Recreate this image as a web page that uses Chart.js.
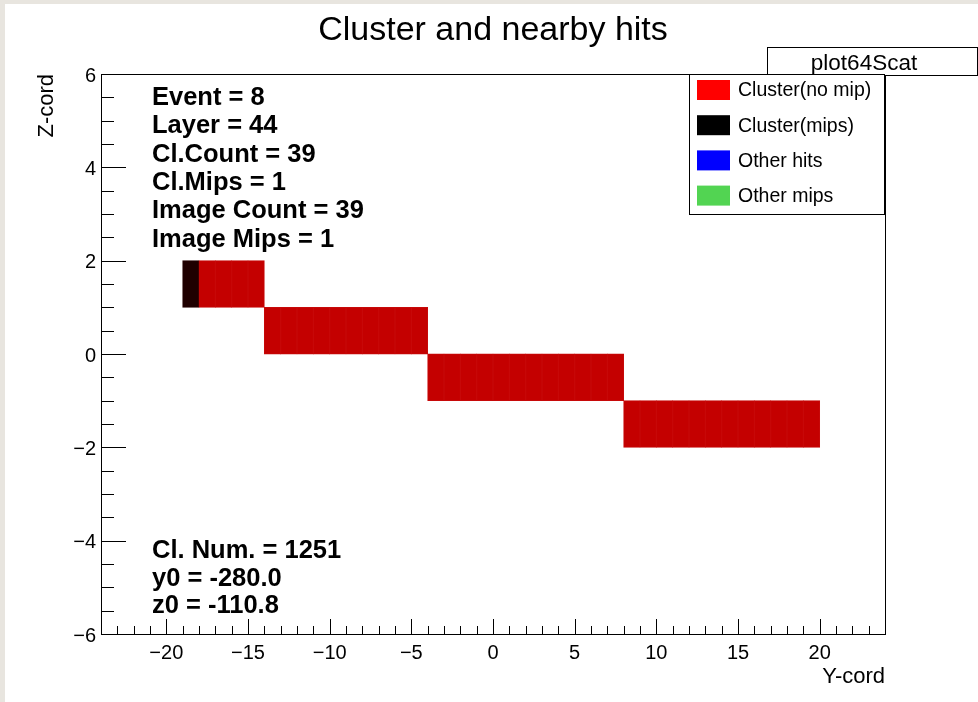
<!DOCTYPE html>
<html><head><meta charset="utf-8">
<script src="https://cdn.jsdelivr.net/npm/chart.js@4"></script>
<style>html,body{margin:0;padding:0;background:#fff;}canvas{display:block}</style>
</head><body>
<canvas id="c" width="978" height="702" style="width:978px;height:702px"></canvas>
<script>
// ---- data ----
const chartTitle = 'Cluster and nearby hits';
const xAxisTitle = 'Y-cord';
const yAxisTitle = 'Z-cord';
const histName = 'plot64Scat';
const xTickLabels = [-20, -15, -10, -5, 0, 5, 10, 15, 20];
const yTickLabels = [-6, -4, -2, 0, 2, 4, 6];
const seriesNames = ['Cluster(no mip)', 'Cluster(mips)', 'Other hits', 'Other mips'];
const cellHeight = 1;
// cell centres (Y-cord) and (Z-cord)
const clusterNoMipY = [-17.5, -16.5, -15.5, -14.5,
  -13.5, -12.5, -11.5, -10.5, -9.5, -8.5, -7.5, -6.5, -5.5, -4.5,
  -3.5, -2.5, -1.5, -0.5, 0.5, 1.5, 2.5, 3.5, 4.5, 5.5, 6.5, 7.5,
  8.5, 9.5, 10.5, 11.5, 12.5, 13.5, 14.5, 15.5, 16.5, 17.5, 18.5, 19.5];
const clusterNoMipZ = [1.5, 1.5, 1.5, 1.5,
  0.5, 0.5, 0.5, 0.5, 0.5, 0.5, 0.5, 0.5, 0.5, 0.5,
  -0.5, -0.5, -0.5, -0.5, -0.5, -0.5, -0.5, -0.5, -0.5, -0.5, -0.5, -0.5,
  -1.5, -1.5, -1.5, -1.5, -1.5, -1.5, -1.5, -1.5, -1.5, -1.5, -1.5, -1.5];
const clusterMipsY = [-18.5];
const clusterMipsZ = [1.5];
const otherHitsY = [];
const otherHitsZ = [];
const otherMipsY = [];
const otherMipsZ = [];
const statsTop = ['Event = 8', 'Layer = 44', 'Cl.Count = 39', 'Cl.Mips = 1', 'Image Count = 39', 'Image Mips = 1'];
const statsBottom = ['Cl. Num. = 1251', 'y0 = -280.0', 'z0 = -110.8'];

// ---- build ----
function cells(ys, zs) {
  return ys.map((y, i) => ({ x: y, y: [zs[i] - cellHeight / 2, zs[i] + cellHeight / 2] }));
}
const FONT = '"Liberation Sans", Arial, Helvetica, sans-serif';
const minus = v => (v < 0 ? '\u2212' + Math.abs(v) : String(v));

const decor = {
  id: 'decor',
  beforeDraw(chart) {
    const ctx = chart.ctx;
    ctx.save();
    ctx.fillStyle = '#e8e5df';
    ctx.fillRect(0, 0, chart.width, 4);
    ctx.fillRect(0, 0, 5, chart.height);
    ctx.restore();
  },
  afterDraw(chart) {
    const ctx = chart.ctx;
    const a = chart.chartArea;
    const xs = chart.scales.x, ys = chart.scales.y;
    ctx.save();
    // frame
    ctx.strokeStyle = '#000';
    ctx.lineWidth = 1;
    ctx.strokeRect(Math.round(a.left) + 0.5, Math.round(a.top) + 0.5, Math.round(a.right - a.left), Math.round(a.bottom - a.top));
    // ticks
    ctx.beginPath();
    for (let v = -23; v <= 23; v++) {
      const px = Math.round(xs.getPixelForValue(v)) + 0.5;
      const len = (v % 5 === 0) ? 15 : 8;
      ctx.moveTo(px, a.bottom);
      ctx.lineTo(px, a.bottom - len);
    }
    for (let k = -12; k <= 12; k++) {
      const v = k / 2;
      const py = Math.round(ys.getPixelForValue(v)) + 0.5;
      const len = (k % 4 === 0) ? 25 : 13;
      ctx.moveTo(a.left, py);
      ctx.lineTo(a.left + len, py);
    }
    ctx.stroke();

    ctx.fillStyle = '#000';
    // title
    ctx.font = '34px ' + FONT;
    ctx.textAlign = 'center';
    ctx.textBaseline = 'alphabetic';
    ctx.fillText(chartTitle, (a.left + a.right) / 2, 40);
    // axis titles
    ctx.font = '22px ' + FONT;
    ctx.textAlign = 'right';
    ctx.fillText(xAxisTitle, a.right, 683);
    ctx.save();
    ctx.translate(53, a.top);
    ctx.rotate(-Math.PI / 2);
    ctx.textAlign = 'right';
    ctx.fillText(yAxisTitle, 0, 0);
    ctx.restore();

    // stats text
    ctx.font = 'bold 25.5px ' + FONT;
    ctx.textAlign = 'left';
    statsTop.forEach((t, i) => ctx.fillText(t, 152, 105 + i * 28.3));
    statsBottom.forEach((t, i) => ctx.fillText(t, 152, 558 + i * 27.5));

    // hist name box
    ctx.fillStyle = '#fff';
    ctx.fillRect(767.5, 47.5, 210, 28);
    ctx.strokeRect(767.5, 47.5, 210, 28);
    ctx.fillStyle = '#000';
    ctx.font = '22.5px ' + FONT;
    ctx.textAlign = 'center';
    ctx.fillText(histName, 864, 70);

    // legend
    const lx = 689.5, ly = 74.5, lw = 195, lh = 140;
    ctx.fillStyle = '#fff';
    ctx.fillRect(lx, ly, lw, lh);
    ctx.strokeRect(lx, ly, lw, lh);
    ctx.font = '19.5px ' + FONT;
    ctx.textAlign = 'left';
    ctx.textBaseline = 'middle';
    chart.data.datasets.forEach((ds, i) => {
      const cy = 90 + i * 35.2;
      ctx.fillStyle = ds.legendColor;
      ctx.fillRect(697, cy - 10, 33, 20);
      ctx.fillStyle = '#000';
      ctx.fillText(ds.label, 738, cy + 1);
    });
    ctx.restore();
  }
};

const barCommon = { grouped: false, barPercentage: 1, categoryPercentage: 1, borderWidth: 1, borderSkipped: false, inflateAmount: 0.4 };

new Chart(document.getElementById('c'), {
  type: 'bar',
  data: {
    datasets: [
      Object.assign({ label: seriesNames[0], data: cells(clusterNoMipY, clusterNoMipZ), backgroundColor: '#c40000', borderColor: '#c70909', legendColor: '#ff0000' }, barCommon),
      Object.assign({ label: seriesNames[1], data: cells(clusterMipsY, clusterMipsZ), backgroundColor: '#1f0000', borderColor: '#240202', legendColor: '#000000' }, barCommon),
      Object.assign({ label: seriesNames[2], data: cells(otherHitsY, otherHitsZ), backgroundColor: '#0000ff', borderColor: '#0000ff', legendColor: '#0000ff' }, barCommon),
      Object.assign({ label: seriesNames[3], data: cells(otherMipsY, otherMipsZ), backgroundColor: '#52d452', borderColor: '#52d452', legendColor: '#52d452' }, barCommon)
    ]
  },
  options: {
    responsive: false,
    devicePixelRatio: 1,
    animation: false,
    layout: { padding: { left: 0, top: 74, right: 93, bottom: 0 } },
    plugins: { legend: { display: false }, title: { display: false }, tooltip: { enabled: false } },
    scales: {
      x: {
        type: 'linear', min: -24, max: 24, offset: false,
        grid: { display: false, drawTicks: false, offset: false },
        border: { display: false },
        ticks: { color: '#000', font: { family: FONT, size: 20 }, padding: 7, maxRotation: 0, autoSkip: false, callback: v => minus(v) },
        afterBuildTicks: s => { s.ticks = xTickLabels.map(v => ({ value: v })); },
        afterFit: s => { s.height = 68; }
      },
      y: {
        type: 'linear', min: -6, max: 6,
        grid: { display: false, drawTicks: false },
        border: { display: false },
        ticks: { color: '#000', font: { family: FONT, size: 20 }, padding: 5, labelOffset: 2, autoSkip: false, callback: v => minus(v) },
        afterBuildTicks: s => { s.ticks = yTickLabels.map(v => ({ value: v })); },
        afterFit: s => { s.width = 101; }
      }
    }
  },
  plugins: [decor]
});
</script>
</body></html>
